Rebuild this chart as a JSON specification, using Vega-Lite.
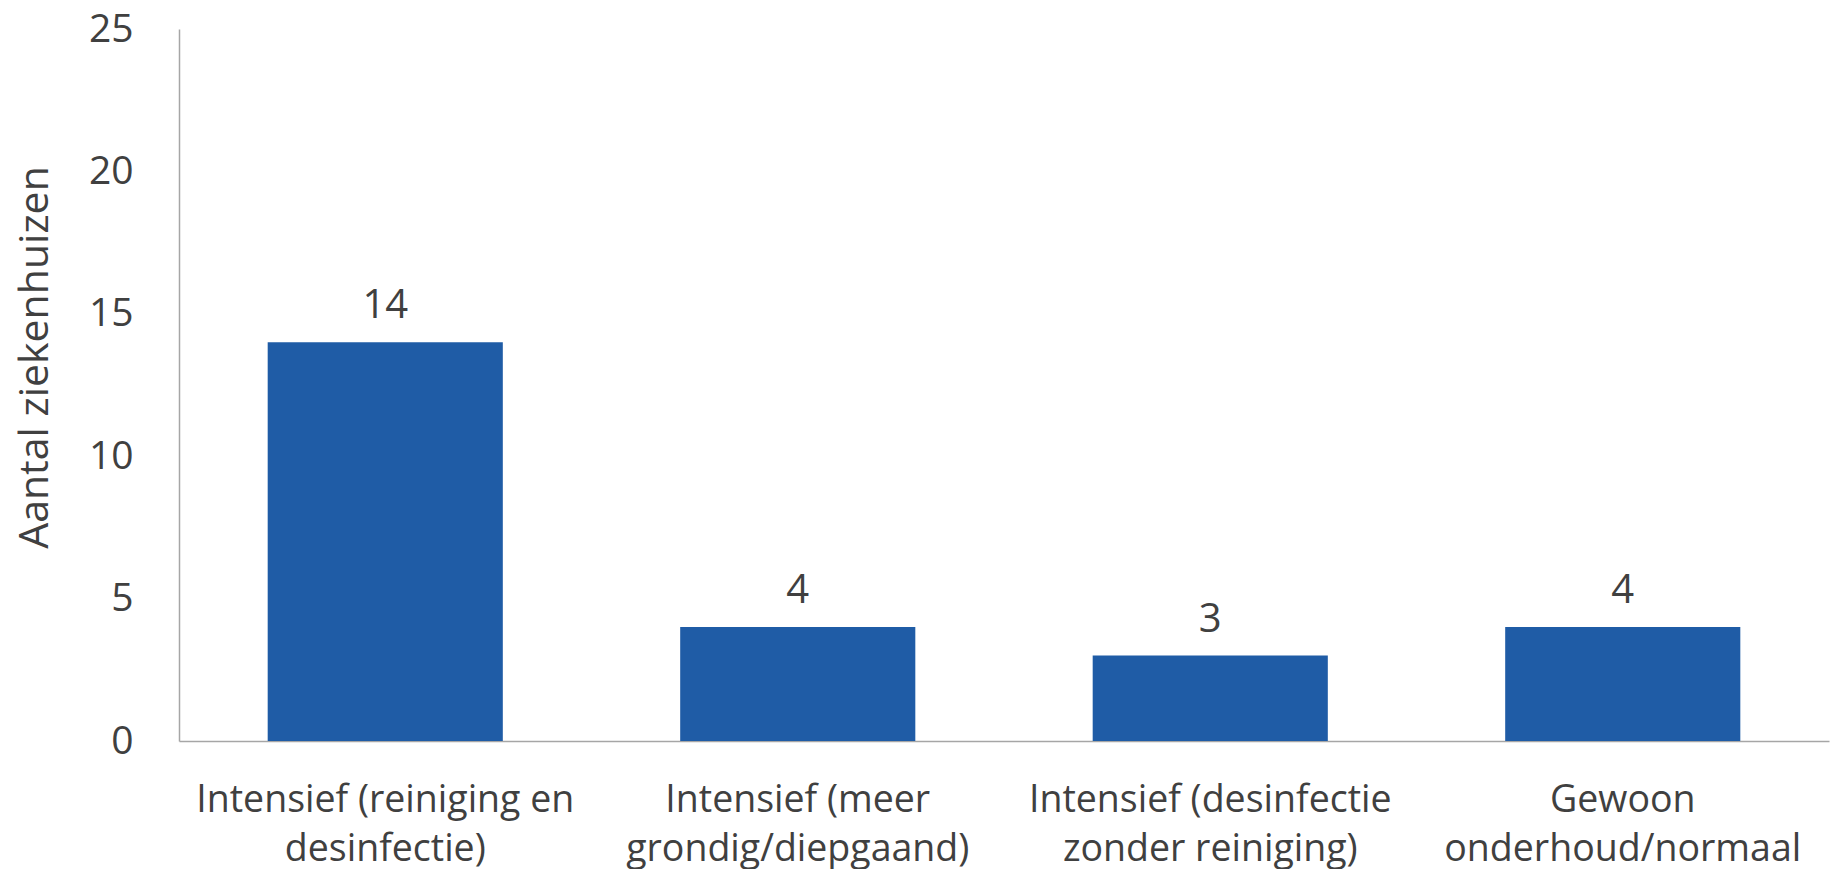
{
  "$schema": "https://vega.github.io/schema/vega-lite/v6.json",
  "width": 1650,
  "height": 712,
  "autosize": {"type": "none"},
  "padding": {"left": 179, "top": 29, "right": 6, "bottom": 128},
  "background": "white",
  "data": {
    "values": [
      {"cat": "Intensief (reiniging en|desinfectie)", "n": 14, "o": 1},
      {"cat": "Intensief (meer|grondig/diepgaand)", "n": 4, "o": 2},
      {"cat": "Intensief (desinfectie|zonder reiniging)", "n": 3, "o": 3},
      {"cat": "Gewoon|onderhoud/normaal", "n": 4, "o": 4}
    ]
  },
  "config": {
    "view": {"stroke": null},
    "font": "Open Sans",
    "axis": {"labelFont": "Open Sans", "titleFont": "Open Sans", "labelColor": "#404040", "titleColor": "#404040", "grid": false, "ticks": false, "domainColor": "#a6a6a6", "domainWidth": 1.5}
  },
  "encoding": {
    "x": {
      "field": "cat", "type": "nominal", "sort": {"field": "o"},
      "scale": {"paddingInner": 0.43, "paddingOuter": 0.215},
      "axis": {"title": null, "labelAngle": 0, "labelFontSize": 37.5, "labelLineHeight": 49, "labelPadding": 40, "labelExpr": "split(datum.label, '|')", "labelLimit": 0, "labelBaseline": "top"}
    },
    "y": {
      "field": "n", "type": "quantitative",
      "scale": {"domain": [0, 25], "nice": false},
      "axis": {"title": "Aantal ziekenhuizen", "values": [0, 5, 10, 15, 20, 25], "labelFontSize": 39, "labelPadding": 46, "titleFontSize": 41, "titleFontWeight": "normal", "titlePadding": 32, "titleY": 328}
    }
  },
  "layer": [
    {"mark": {"type": "bar", "color": "#1f5ca6"}},
    {"mark": {"type": "text", "baseline": "alphabetic", "dy": -24, "fontSize": 40, "color": "#404040"}, "encoding": {"text": {"field": "n", "type": "quantitative"}}}
  ]
}
